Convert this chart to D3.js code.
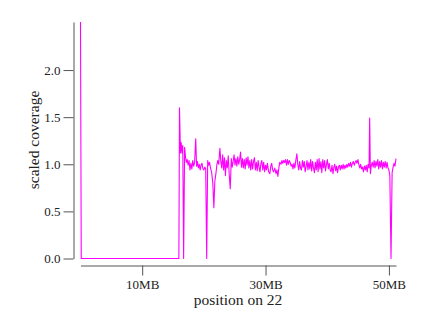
<!DOCTYPE html>
<html><head><meta charset="utf-8">
<script src="https://cdn.jsdelivr.net/npm/d3@7"></script>
<style>body{margin:0;background:#fff}svg{display:block}</style>
</head><body><svg id="c" width="436" height="321"></svg>
<script>
const positionsMB = [0.00,0.12,15.95,16.05,16.20,16.32,16.45,16.58,16.72,16.88,17.02,17.16,17.30,17.45,17.60,17.75,17.90,18.05,18.20,18.35,18.50,18.68,18.82,18.96,19.10,19.25,19.40,19.55,19.70,19.85,20.00,20.15,20.30,20.46,20.62,20.78,20.92,21.08,21.25,21.45,21.62,21.78,21.95,22.10,22.25,22.40,22.60,22.75,22.90,23.05,23.20,23.35,23.50,23.65,23.80,23.95,24.10,24.28,24.45,24.60,24.75,24.90,25.05,25.20,25.35,25.50,25.65,25.80,25.95,26.10,26.25,26.40,26.55,26.70,26.85,27.00,27.15,27.30,27.45,27.60,27.75,27.90,28.05,28.20,28.35,28.50,28.65,28.80,28.95,29.10,29.25,29.40,29.55,29.70,29.85,30.00,30.15,30.30,30.50,30.70,30.85,31.00,31.15,31.30,31.50,31.70,31.85,32.00,32.15,32.30,32.50,32.65,32.80,32.95,33.10,33.25,33.40,33.55,33.70,33.85,34.00,34.15,34.30,34.45,34.60,34.75,34.90,35.08,35.22,35.38,35.52,35.68,35.82,35.98,36.12,36.28,36.42,36.58,36.72,36.88,37.02,37.18,37.32,37.48,37.62,37.78,37.92,38.08,38.22,38.38,38.52,38.68,38.82,38.98,39.12,39.28,39.42,39.58,39.72,39.88,40.02,40.18,40.32,40.48,40.62,40.78,40.94,41.08,41.22,41.38,41.52,41.68,41.82,41.98,42.12,42.28,42.42,42.58,42.72,42.88,43.02,43.18,43.32,43.48,43.62,43.78,43.92,44.08,44.22,44.38,44.52,44.68,44.82,44.98,45.12,45.28,45.42,45.58,45.72,45.88,46.02,46.18,46.32,46.48,46.62,46.78,46.88,47.00,47.15,47.30,47.45,47.60,47.75,47.90,48.05,48.20,48.35,48.50,48.65,48.80,48.95,49.10,49.25,49.40,49.55,49.70,49.85,50.00,50.15,50.34,50.52,50.68,50.83,50.98,51.15];
const coverage = [2.51,0,0,1.60,1.12,1.23,1.12,1.20,0,1.18,1.08,1.02,1.05,0.99,1.04,0.94,1.01,0.95,1.04,0.98,1.02,1.27,0.98,1.03,0.96,1.00,0.94,0.99,1.01,0.95,0.94,0.97,0.95,0,1.04,0.99,1.02,0.96,0.92,0.80,0.54,0.82,0.90,0.99,1.04,1.00,1.17,1.03,0.96,1.10,0.94,1.07,0.88,1.04,0.96,1.09,0.90,0.74,
1.06,0.97,1.03,1.10,0.99,1.06,0.98,1.08,1.00,1.05,1.13,0.97,1.06,0.96,1.05,0.95,1.07,0.99,1.08,0.96,1.04,0.94,1.05,0.95,1.03,1.07,0.94,1.02,0.93,1.04,0.97,0.92,1.01,1.04,0.94,1.02,0.92,0.99,0.94,1.01,0.92,0.90,0.98,1.01,0.94,0.92,0.96,0.90,0.94,0.87,0.96,1.02,1.00,1.04,1.01,1.04,1.02,1.05,0.99,1.05,1.00,1.04,1.02,0.98,1.00,0.95,1.01,0.96,1.04,1.11,1.00,0.94,1.03,0.96,0.94,1.04,0.97,1.03,0.92,0.98,1.04,0.94,1.02,0.95,1.05,0.93,1.03,0.96,0.91,1.02,0.94,1.05,0.92,1.06,0.95,1.03,0.91,1.05,0.96,1.04,0.93,1.00,1.05,0.95,1.01,0.94,0.92,0.99,0.90,0.97,1.00,0.93,0.98,0.91,0.97,0.99,0.94,0.99,0.95,1.00,0.95,0.99,0.96,1.00,0.97,1.01,0.98,1.02,0.97,1.01,1.03,0.99,1.02,1.04,1.01,1.05,1.00,0.96,1.00,0.95,0.97,0.92,0.98,0.94,0.99,0.92,1.00,0.96,1.49,0.90,0.99,1.02,0.97,1.04,0.96,1.03,0.98,1.05,0.95,1.03,0.97,1.04,0.95,1.02,0.97,1.03,0.96,1.02,0.96,0.94,0.88,0,0.91,0.97,1.01,0.98,1.06];
const xTicks = [10, 30, 50];
const yTicks = [0, 0.5, 1.0, 1.5, 2.0];
const xTitle = "position on 22";
const yTitle = "scaled coverage";

const svg = d3.select("#c");
const font = "'Liberation Serif', 'Times New Roman', serif";
const x = d3.scaleLinear().domain([0, 51.15]).range([80.5, 396]);
const y = d3.scaleLinear().domain([0, 2.51]).range([258.5, 22]);

const data = positionsMB.map((p, i) => ({p, v: coverage[i]}));

const gy = svg.append("g").attr("transform", "translate(73.5,0)")
  .call(d3.axisLeft(y).tickValues(yTicks).tickFormat(d3.format(".1f")).tickSize(10).tickSizeOuter(0).tickPadding(3));
const gx = svg.append("g").attr("transform", "translate(0,265.5)")
  .call(d3.axisBottom(x).tickValues(xTicks).tickFormat(d => d + "MB").tickSize(10).tickSizeOuter(0).tickPadding(4));
[gx, gy].forEach(g => {
  g.attr("font-family", font).attr("font-size", 13);
  g.selectAll("path,line").attr("stroke", "#555").attr("stroke-width", 1);
  g.selectAll("text").attr("fill", "#222").style("font-family", font).style("font-size", "13px");
});

svg.append("path").datum(data)
  .attr("fill", "none").attr("stroke", "#ff00ff").attr("stroke-width", 1.1)
  .attr("stroke-linejoin", "round")
  .attr("d", d3.line().x(d => x(d.p)).y(d => y(d.v)));

svg.append("text").attr("x", 238).attr("y", 305).attr("text-anchor", "middle")
  .attr("fill", "#222").style("font-family", font).style("font-size", "15.5px").text(xTitle);
svg.append("text").attr("transform", "translate(39,140) rotate(-90)").attr("text-anchor", "middle")
  .attr("fill", "#222").style("font-family", font).style("font-size", "15.5px").text(yTitle);
</script></body></html>
